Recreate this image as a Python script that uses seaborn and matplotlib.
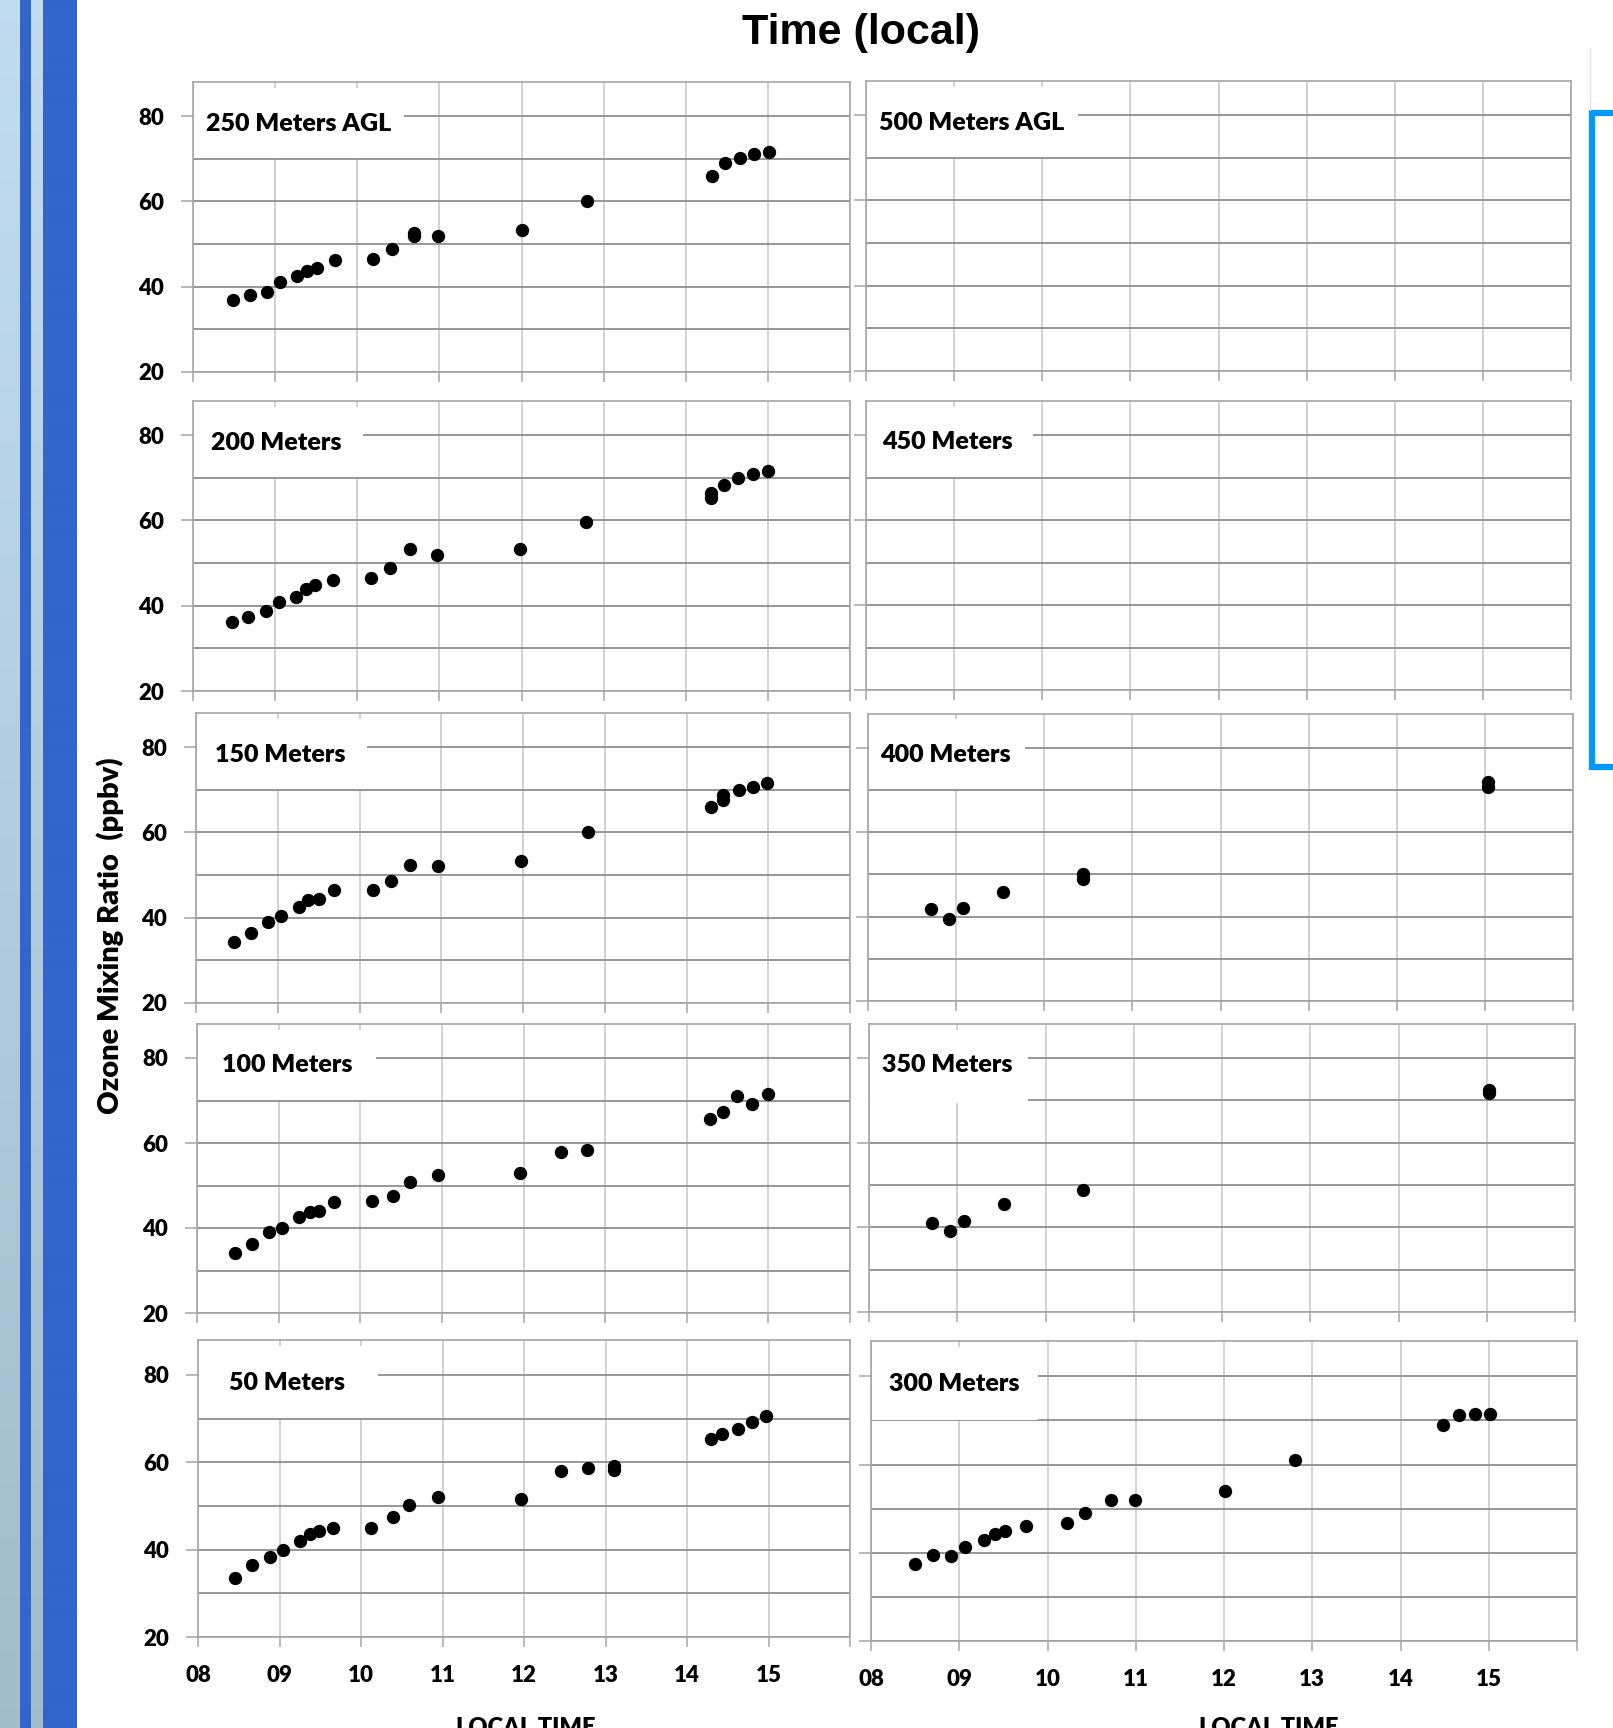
import numpy as np
import pandas as pd
import matplotlib
matplotlib.use("Agg")
import matplotlib.pyplot as plt
import seaborn as sns
from matplotlib.patches import Rectangle
from matplotlib.lines import Line2D
from matplotlib.transforms import blended_transform_factory
from matplotlib.ticker import FixedLocator

# ---------------------------------------------------------------- data
# Ozone mixing ratio (ppbv) versus local time (decimal hours) at each altitude
t_50 = [8.46, 8.66, 8.88, 9.04, 9.25, 9.37, 9.49, 9.66, 10.12, 10.39, 10.59, 10.95,
        11.96, 12.46, 12.78, 13.10, 13.10, 14.29, 14.43, 14.62, 14.80, 14.97]
o3_50 = [33.5, 36.5, 38.4, 40.0, 42.0, 43.5, 44.3, 44.9, 44.9, 47.5, 50.2, 52.1,
         51.5, 58.1, 58.7, 59.2, 58.2, 65.4, 66.5, 67.7, 69.2, 70.5]

t_100 = [8.46, 8.67, 8.88, 9.04, 9.25, 9.38, 9.50, 9.68, 10.14, 10.40, 10.61, 10.95,
         11.96, 12.46, 12.78, 14.29, 14.44, 14.62, 14.80, 14.99]
o3_100 = [34.1, 36.2, 39.1, 40.0, 42.6, 43.8, 44.0, 46.1, 46.3, 47.6, 50.8, 52.5,
          53.0, 58.0, 58.4, 65.6, 67.4, 71.1, 69.2, 71.6]

t_150 = [8.46, 8.67, 8.88, 9.04, 9.26, 9.37, 9.50, 9.69, 10.16, 10.39, 10.62, 10.96,
         11.97, 12.79, 14.30, 14.45, 14.45, 14.64, 14.81, 14.99]
o3_150 = [34.3, 36.4, 39.1, 40.5, 42.6, 44.2, 44.4, 46.5, 46.5, 48.6, 52.4, 52.1,
          53.4, 60.2, 65.9, 67.6, 68.7, 70.0, 70.6, 71.5]

t_200 = [8.47, 8.67, 8.89, 9.05, 9.26, 9.38, 9.49, 9.71, 10.17, 10.40, 10.64, 10.97,
         11.98, 12.79, 14.31, 14.31, 14.47, 14.64, 14.82, 15.00]
o3_200 = [36.2, 37.3, 38.8, 40.9, 42.1, 44.0, 44.8, 46.0, 46.6, 48.8, 53.2, 51.9,
          53.2, 59.7, 65.3, 66.5, 68.3, 70.0, 70.9, 71.5]

t_250 = [8.49, 8.69, 8.90, 9.06, 9.27, 9.39, 9.51, 9.73, 10.19, 10.42, 10.69, 10.69,
         10.98, 12.00, 12.80, 14.32, 14.48, 14.66, 14.83, 15.01]
o3_250 = [37.0, 38.1, 38.7, 41.0, 42.6, 43.8, 44.5, 46.3, 46.4, 48.9, 52.0, 52.7,
          52.0, 53.4, 60.2, 65.9, 68.9, 70.1, 71.1, 71.7]

t_300 = [8.50, 8.70, 8.91, 9.07, 9.28, 9.40, 9.52, 9.76, 10.22, 10.42, 10.72, 10.99,
         12.01, 12.81, 14.48, 14.66, 14.84, 15.01]
o3_300 = [37.4, 39.6, 39.3, 41.3, 43.0, 44.3, 44.9, 46.1, 46.8, 49.1, 51.9, 52.0,
          53.9, 61.0, 68.9, 71.3, 71.4, 71.5]

t_350 = [8.71, 8.92, 9.08, 9.53, 10.43, 15.02, 15.02]
o3_350 = [41.0, 39.2, 41.6, 45.5, 48.9, 72.4, 71.7]

t_400 = [8.71, 8.92, 9.08, 9.53, 10.44, 10.44, 15.04, 15.04]
o3_400 = [41.9, 39.5, 42.0, 45.8, 49.0, 50.0, 71.9, 70.6]

t_450, o3_450 = [], []
t_500, o3_500 = [], []

panel_titles = ["250 Meters AGL", "500 Meters AGL",
                "200 Meters", "450 Meters",
                "150 Meters", "400 Meters",
                "100 Meters", "350 Meters",
                "50 Meters", "300 Meters"]
panel_series = [(t_250, o3_250), (t_500, o3_500),
                (t_200, o3_200), (t_450, o3_450),
                (t_150, o3_150), (t_400, o3_400),
                (t_100, o3_100), (t_350, o3_350),
                (t_50, o3_50), (t_300, o3_300)]

hour_ticks = [8, 9, 10, 11, 12, 13, 14, 15, 16]
hour_labels = ["08", "09", "10", "11", "12", "13", "14", "15", ""]
ozone_ticks = [20, 40, 60, 80]
ozone_minor = [30, 50, 70]

frames = []
for title, (tt, oo) in zip(panel_titles, panel_series):
    frames.append(pd.DataFrame({"panel": title, "time": tt, "ozone": oo}))
data = pd.concat(frames, ignore_index=True)

# ---------------------------------------------------------------- style
sns.set_style("white")
plt.rcParams["font.family"] = ["Lato", "DejaVu Sans"]
plt.rcParams["font.weight"] = "bold"
plt.rcParams["text.color"] = "black"
plt.rcParams["xtick.labelcolor"] = "black"
plt.rcParams["ytick.labelcolor"] = "black"

W, H = 1613, 1728
fig = plt.figure(figsize=(W / 100, H / 100), dpi=100)
fig.patch.set_facecolor("white")


def px_axes(x0, y0, x1, y1):
    """Add an axes from pixel edges measured from the top-left corner."""
    return fig.add_axes([x0 / W, 1 - y1 / H, (x1 - x0) / W, (y1 - y0) / H])


# pixel rectangles of each panel (left, top, right, bottom)
rects = [(193, 82, 850, 372), (866, 81, 1571, 371),
         (193, 401, 850, 691), (866, 401, 1571, 690),
         (196, 713, 850, 1003), (868, 714, 1573, 1001),
         (197, 1024, 850, 1313), (869, 1024, 1575, 1312),
         (198, 1340, 850, 1637), (871, 1341, 1577, 1641)]
# white label box width and text offset (pixels)
box_w = [210, 211, 169, 166, 170, 156, 178, 158, 179, 166]
txt_dx = [12.6, 12.8, 18, 16.5, 19, 12, 24.6, 12.5, 31, 18]

hgrid = "#8f8f8f"
vgrid = "#cfcfcf"
frame_c = "#a5a5a5"
tick_weight = "heavy"

for i, (title, rect) in enumerate(zip(panel_titles, rects)):
    ax = px_axes(*rect)
    sub = data[data["panel"] == title]
    if len(sub):
        sns.scatterplot(data=sub, x="time", y="ozone", ax=ax, color="black",
                        s=92, linewidth=0, legend=False, zorder=3)
    ax.set_xlim(8, 16)
    ax.set_ylim(20, 88)
    ax.set_xlabel("")
    ax.set_ylabel("")
    ax.set_axisbelow(True)
    ax.xaxis.set_major_locator(FixedLocator(hour_ticks))
    ax.yaxis.set_major_locator(FixedLocator(ozone_ticks))
    ax.yaxis.set_minor_locator(FixedLocator(ozone_minor))
    ax.grid(True, axis="y", which="both", color=hgrid, lw=1.3)
    ax.grid(True, axis="x", which="major", color=vgrid, lw=1.3)
    ax.tick_params(axis="both", which="major", direction="out", color=frame_c,
                   width=1.1, length=7, labelsize=16, labelcolor="black")
    ax.tick_params(axis="y", which="minor", length=0)
    ax.tick_params(axis="y", which="major", length=9, pad=12)
    ax.tick_params(axis="x", which="major", length=7, pad=13)
    ax.tick_params(left=True, bottom=True)
    for sp in ax.spines.values():
        sp.set_color(frame_c)
        sp.set_linewidth(1.2)
        sp.set_visible(True)

    left_col = (i % 2 == 0)
    bottom_row = (i >= 8)
    if left_col:
        ax.set_yticklabels([str(v) for v in ozone_ticks], fontweight=tick_weight)
    else:
        ax.set_yticklabels([])
    if bottom_row:
        ax.set_xticklabels(hour_labels, fontweight=tick_weight)
    else:
        ax.set_xticklabels([])

    tr = blended_transform_factory(ax.transAxes, ax.transData)
    box_bottom = 69.4 if title == "350 Meters" else 70.2
    ax.add_patch(Rectangle((0.002, box_bottom), box_w[i] / (rect[2] - rect[0]),
                           86.7 - box_bottom, transform=tr, facecolor="white",
                           edgecolor="none", zorder=1))
    ax.annotate(title, xy=(0, 76.6), xycoords=tr,
                xytext=(txt_dx[i] * 0.72, 0), textcoords="offset points",
                ha="left", va="baseline", fontsize=18, fontweight="heavy",
                color="black", zorder=4)

# ---------------------------------------------------------------- figure text
fig.text(861 / W, 1 - 33 / H, "Time (local)", ha="center", va="center",
         fontsize=31, fontweight="bold", color="black",
         family=["Liberation Sans", "DejaVu Sans"])
fig.text(110 / W, 1 - 936 / H, "Ozone Mixing Ratio  (ppbv)", rotation=90,
         ha="center", va="center", fontsize=21, fontweight="heavy", color="black")
for xc in (526, 1269):
    fig.text(xc / W, 1 - 1717 / H, "LOCAL TIME", ha="center", va="top",
             fontsize=17, fontweight="heavy", color="black")

# ---------------------------------------------------------------- decorations
band = fig.add_axes([0, 0, 77 / W, 1])
band.set_axis_off()
rows = 200
light_top = np.array([0.76, 0.86, 0.94])
light_bot = np.array([0.64, 0.74, 0.80])
dark = np.array([0.20, 0.40, 0.80])
frac = np.linspace(0, 1, rows)[:, None]
light = light_top[None, :] * (1 - frac) + light_bot[None, :] * frac
img = np.zeros((rows, 77, 3))
for c in range(77):
    if 20 <= c < 31 or 43 <= c < 77:
        img[:, c, :] = dark
    else:
        img[:, c, :] = light
band.imshow(img, aspect="auto", extent=[0, 77, 0, 1], interpolation="bilinear")
band.set_xlim(0, 77)

bracket_c = "#0099ff"
fig.add_artist(Line2D([1616 / W, 1592 / W, 1592 / W, 1616 / W],
                      [1 - 113 / H, 1 - 113 / H, 1 - 767 / H, 1 - 767 / H],
                      transform=fig.transFigure, color=bracket_c, lw=4.5,
                      solid_joinstyle="miter"))
fig.add_artist(Line2D([1590 / W, 1590 / W], [1 - 48 / H, 1 - 110 / H],
                      transform=fig.transFigure, color="#e4e4e4", lw=1))

fig.savefig("out.png", dpi=100, facecolor="white")
